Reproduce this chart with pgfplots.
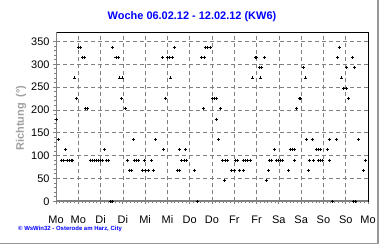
\documentclass[border=0pt]{standalone}
\usepackage{pgfplots}
\pgfplotsset{compat=1.18}
\usepackage{fontspec}
\setmainfont{Liberation Sans}
\definecolor{gridgray}{RGB}{128,128,128}
\definecolor{axgray}{RGB}{128,128,128}
\definecolor{labgray}{RGB}{160,160,160}
\definecolor{titleblue}{RGB}{0,0,255}
\definecolor{framegray}{RGB}{150,150,150}
\pgfplotstableread{
h v
0 180
1.3 135
2.7 90
3.8 90
5.0 112.5
5.9 90
7.0 90
8.1 90
9.1 90
10.2 270
10.8 225
12.2 337.5
13.3 337.5
14.2 315
15.3 315
16.1 202.5
17.2 202.5
18.5 90
19.6 90
20.6 90
21.7 90
22.8 90
23.9 90
25.0 90
26.0 112.5
27.1 90
28.2 90
29.4 0
30.3 337.5
30.6 0
32.3 315
33.4 315
34.3 270
35.2 225
35.7 270
37.5 202.5
38.4 90
39.5 67.5
40.6 67.5
41.9 135
42.0 90
43.1 90
44.2 90
46.5 67.5
47.5 90
48.0 67.5
50.0 67.5
51.5 90
52.3 67.5
53.8 135
57.3 315
57.8 112.5
59.2 225
59.8 315
61.0 315
61.7 270
62.8 315
64.0 337.5
65.3 67.5
66.4 112.5
66.7 67.5
67.6 90
69.0 90
69.7 112.5
70.5 90
74.8 67.5
76.0 0
78.3 315
79.2 202.5
80.1 315
80.6 337.5
81.8 337.5
83.1 337.5
84.3 225
85.4 225
86.5 225
86.6 180
87.7 135
88.8 202.5
89.8 90
90.6 45
91.1 90
92.5 90
94.4 67.5
96.2 67.5
96.4 90
97.8 90
98.9 67.5
100.7 67.5
100.7 90
102.0 90
103.3 90
104.5 90
106.0 270
107.5 315
108.2 315
109.5 292.5
110.0 270
110.8 292.5
112.2 315
113.2 45
114.5 67.5
114.9 90
116.0 90
117.8 112.5
118.5 90
119.7 90
120.9 90
122.1 90
125.3 67.5
126.0 112.5
127.1 112.5
128.4 112.5
128.5 90
129.5 202.5
131.0 225
131.6 225
133.0 292.5
134.1 270
134.8 135
135.7 67.5
136.3 90
138.0 135
138.7 90
140.1 112.5
141.4 112.5
141.4 90
142.6 112.5
142.6 90
143.7 90
146.0 112.5
147.0 135
147.5 90
149.0 0
150.8 135
151.7 315
152.5 337.5
153.7 270
155.0 247.5
156.2 247.5
156.5 292.5
157.5 225
159.8 315
160.2 0
160.7 292.5
161.3 0
162.8 135
165.7 67.5
166.7 90
}\winddata
\begin{document}
\begin{tikzpicture}[x=1bp,y=1bp]
\useasboundingbox (0,0) rectangle (380,245);
\fill[white] (0,0) rectangle (380,245);
\begin{axis}[
  at={(56bp,43.7bp)}, anchor=south west,
  scale only axis, width=312bp, height=169bp,
  xmin=0, xmax=168, ymin=0, ymax=370,
  xtick={0,12,...,168},
  xticklabels={Mo,Mo,Di,Di,Mi,Mi,Do,Do,Fr,Fr,Sa,Sa,So,So,Mo},
  minor x tick num=5,
  ytick={0,50,...,350}, minor y tick num=4,
  tick align=outside, tick pos=left,
  major tick length=3bp, minor tick length=2bp,
  every tick/.style={axgray, line width=0.8bp},
  grid=major,
  major grid style={gridgray, line width=0.7bp, dash pattern=on 4bp off 3bp},
  axis line style={black, line width=0.8bp},
  tick label style={font=\fontsize{11}{13}\selectfont, black},
  xticklabel style={yshift=-8bp},
  /pgf/number format/assume math mode=true,
]
\addplot[only marks, mark=+, mark size=1.5bp, line width=0.9bp, black] table[x=h, y=v] {\winddata};
\draw[axgray, line width=2bp] (rel axis cs:0,1) -- (rel axis cs:0,0) -- (rel axis cs:1,0);
\end{axis}
\node[font=\bfseries\fontsize{11}{13}\selectfont, text=titleblue] at (192,228) {Woche 06.02.12 - 12.02.12 (KW6)};
\node[font=\bfseries\fontsize{11}{13}\selectfont, text=labgray, rotate=90] at (21,127) {Richtung\ \ (°)};
\node[font=\bfseries\fontsize{6}{7}\selectfont, text=titleblue, anchor=west, inner sep=0pt] at (18,16) {© WsWin32 - Osterode am Harz, City};
\draw[framegray, line width=1.5bp] (378,245) -- (378,1.5) -- (0,1.5);
\end{tikzpicture}
\end{document}
